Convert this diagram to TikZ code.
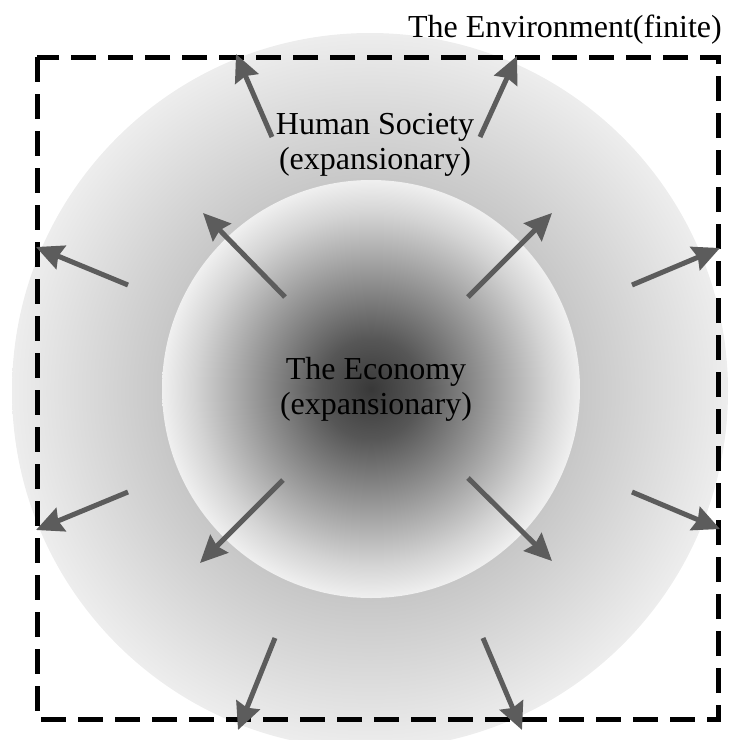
\documentclass[tikz,border=0pt]{standalone}
\usepackage{fontspec}
\setmainfont{Liberation Serif}
\usetikzlibrary{arrows.meta,positioning}

% radius of the disc is at 25bp
\pgfdeclareradialshading{economyshade}{\pgfpoint{0bp}{0bp}}{color(0bp)=(black!78); color(6bp)=(black!66); color(14bp)=(black!40); color(21bp)=(black!17); color(25bp)=(black!6); color(50bp)=(black!6)}
\pgfdeclareradialshading{societyshade}{\pgfpoint{0bp}{0bp}}{color(0bp)=(black!40); color(14.5bp)=(black!22); color(25bp)=(black!7); color(50bp)=(black!7)}

\begin{document}
\begin{tikzpicture}[x=1pt,y=-1pt,>={Stealth[length=27pt,width=25pt,inset=3pt]},
  spread/.style={->,line width=5pt,draw=black!64,fill=black!64},
  caption/.style={font=\fontsize{32}{35}\selectfont,align=center,inner sep=0pt}]
\useasboundingbox (0,0) rectangle (731,740);

% the two shaded discs
\node (society) [circle,minimum size=716pt,inner sep=0pt,shading=societyshade] at (370,391) {};
\node (economy) [circle,minimum size=418pt,inner sep=0pt,shading=economyshade] at (371,389) {};

% the environment
\draw[line width=5pt,dash pattern=on 25pt off 12pt] (37,57) rectangle (718,719);
\node (env) [caption,anchor=base east] at (722,37) {The Environment(finite)};

\node (hs) [caption] at (375,145) {Human Society\\(expansionary)};
\node (ec) [caption] at (376,389) {The Economy\\(expansionary)};

% arrow ends
\coordinate (s1a) at (272,137); \coordinate (s1b) at (236,54);
\coordinate (s2a) at (480,137); \coordinate (s2b) at (517,56);
\coordinate (s3a) at (128,285); \coordinate (s3b) at (36,247);
\coordinate (s4a) at (128,492); \coordinate (s4b) at (36,530);
\coordinate (s5a) at (632,285); \coordinate (s5b) at (720,248);
\coordinate (s6a) at (632,492); \coordinate (s6b) at (720,529);
\coordinate (s7a) at (275,638); \coordinate (s7b) at (238,730);
\coordinate (s8a) at (483,638); \coordinate (s8b) at (522,730);
\coordinate (e1a) at (285,297); \coordinate (e1b) at (203,213);
\coordinate (e2a) at (468,297); \coordinate (e2b) at (552,213);
\coordinate (e3a) at (283,480); \coordinate (e3b) at (200,563);
\coordinate (e4a) at (468,478); \coordinate (e4b) at (552,561);

\path (s1a) edge [spread] (s1b)
      (s2a) edge [spread] (s2b)
      (s3a) edge [spread] (s3b)
      (s4a) edge [spread] (s4b)
      (s5a) edge [spread] (s5b)
      (s6a) edge [spread] (s6b)
      (s7a) edge [spread] (s7b)
      (s8a) edge [spread] (s8b)
      (e1a) edge [spread] (e1b)
      (e2a) edge [spread] (e2b)
      (e3a) edge [spread] (e3b)
      (e4a) edge [spread] (e4b);
\end{tikzpicture}
\end{document}
